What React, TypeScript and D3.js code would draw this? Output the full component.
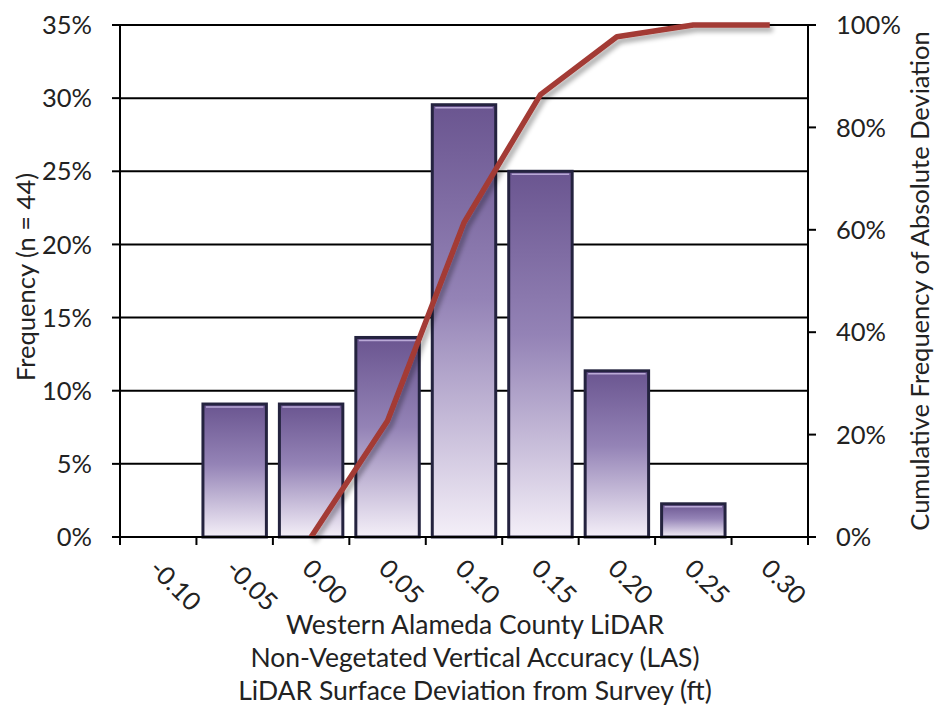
import React from 'react';
import * as d3 from 'd3';

const categories = ['-0.10', '-0.05', '0.00', '0.05', '0.10', '0.15', '0.20', '0.25', '0.30'];
const frequencyPct = [0, 9.09, 9.09, 13.64, 29.55, 25.0, 11.36, 2.27, 0];
const cumulativePct: (number | null)[] = [null, null, 0, 22.7, 61.4, 86.4, 97.7, 100, 100];
const leftTicks = [0, 5, 10, 15, 20, 25, 30, 35];
const rightTicks = [0, 20, 40, 60, 80, 100];
const leftTitle = 'Frequency (n = 44)';
const rightTitle = 'Cumulative Frequency of Absolute Deviation';
const xTitleLines = [
  'Western Alameda County LiDAR',
  'Non-Vegetated Vertical Accuracy (LAS)',
  'LiDAR Surface Deviation from Survey (ft)',
];

const W = 938;
const H = 713;
const M = { left: 120, right: 808, top: 25, bottom: 537 };
const FONT = 'Lato, "Open Sans", sans-serif';
const FS = 25.5;

export default function App() {
  const x = d3.scaleBand<string>().domain(categories).range([M.left, M.right]).paddingInner(0.17).paddingOuter(0.085);
  const xb = d3.scaleBand<string>().domain(categories).range([M.left, M.right]);
  const yL = d3.scaleLinear().domain([0, 35]).range([M.bottom, M.top]);
  const yR = d3.scaleLinear().domain([0, 100]).range([M.bottom, M.top]);

  const linePts = categories
    .map((c, i) => ({ c, v: cumulativePct[i] }))
    .filter((d) => d.v !== null) as { c: string; v: number }[];
  const line = d3
    .line<{ c: string; v: number }>()
    .x((d) => (xb(d.c) as number) + xb.bandwidth() / 2)
    .y((d) => yR(d.v));

  const boundaries = d3.range(categories.length + 1).map((i) => M.left + i * xb.bandwidth());

  return (
    <svg width={W} height={H} style={{ position: 'absolute', left: 0, top: 0, background: '#fff' }} fontFamily={FONT}>
      <defs>
        <linearGradient id="barGrad" x1="0" y1="0" x2="0" y2="1">
          <stop offset="0" stopColor="#6a5590" />
          <stop offset="0.45" stopColor="#9483b6" />
          <stop offset="1" stopColor="#f4eff8" />
        </linearGradient>
        <filter id="shadow" x="-10%" y="-10%" width="130%" height="130%">
          <feGaussianBlur in="SourceAlpha" stdDeviation="2.5" />
          <feOffset dx="3" dy="4" result="b" />
          <feComponentTransfer>
            <feFuncA type="linear" slope="0.35" />
          </feComponentTransfer>
          <feMerge>
            <feMergeNode />
            <feMergeNode in="SourceGraphic" />
          </feMerge>
        </filter>
      </defs>

      {/* gridlines */}
      {leftTicks.map((t) => (
        <line key={'g' + t} x1={M.left} x2={M.right} y1={yL(t)} y2={yL(t)} stroke="#000" strokeWidth={2} />
      ))}

      {/* bars */}
      {categories.map((c, i) =>
        frequencyPct[i] > 0 ? (
          <g key={'b' + c}>
            <rect
              x={x(c)}
              y={yL(frequencyPct[i])}
              width={x.bandwidth()}
              height={M.bottom - yL(frequencyPct[i])}
              fill="url(#barGrad)"
              stroke="#24233f"
              strokeWidth={3}
            />
            <line
              x1={(x(c) as number) + 3}
              x2={(x(c) as number) + x.bandwidth() - 3}
              y1={yL(frequencyPct[i]) + 3}
              y2={yL(frequencyPct[i]) + 3}
              stroke="#b9a9d6"
              strokeWidth={1.5}
            />
          </g>
        ) : null
      )}

      {/* cumulative line */}
      <path d={line(linePts) as string} fill="none" stroke="#a33a34" strokeWidth={5.5} strokeLinejoin="round" filter="url(#shadow)" />

      {/* axes */}
      <line x1={M.left} x2={M.left} y1={M.top} y2={M.bottom} stroke="#000" strokeWidth={2} />
      <line x1={M.right} x2={M.right} y1={M.top} y2={M.bottom} stroke="#000" strokeWidth={2} />
      <line x1={M.left} x2={M.right} y1={M.bottom} y2={M.bottom} stroke="#000" strokeWidth={2} />
      {leftTicks.map((t) => (
        <g key={'lt' + t}>
          <line x1={M.left - 8} x2={M.left} y1={yL(t)} y2={yL(t)} stroke="#000" strokeWidth={2} />
          <text x={92} y={yL(t)} dy="0.36em" textAnchor="end" fontSize={FS} fill="#222">
            {t}%
          </text>
        </g>
      ))}
      {rightTicks.map((t) => (
        <g key={'rt' + t}>
          <line x1={M.right} x2={M.right + 8} y1={yR(t)} y2={yR(t)} stroke="#000" strokeWidth={2} />
          <text x={836} y={yR(t)} dy="0.36em" textAnchor="start" fontSize={FS} fill="#222">
            {t}%
          </text>
        </g>
      ))}
      {boundaries.map((bx, i) => (
        <line key={'xt' + i} x1={bx} x2={bx} y1={M.bottom} y2={M.bottom + 8} stroke="#000" strokeWidth={2} />
      ))}
      {categories.map((c) => (
        <text
          key={'xl' + c}
          transform={`translate(${(xb(c) as number) + xb.bandwidth() / 2 - 4},${M.bottom + 27}) rotate(45)`}
          dy="0.35em"
          textAnchor="start"
          fontSize={FS}
          fill="#222"
        >
          {c}
        </text>
      ))}

      {/* titles */}
      <text transform={`translate(35,${(M.top + M.bottom) / 2 - 4}) rotate(-90)`} textAnchor="middle" fontSize={FS} fill="#222">
        {leftTitle}
      </text>
      <text transform={`translate(929,${(M.top + M.bottom) / 2}) rotate(-90)`} textAnchor="middle" fontSize={FS} fill="#222">
        {rightTitle}
      </text>
      {xTitleLines.map((l, i) => (
        <text key={'xt' + i} x={475} y={634 + i * 33} textAnchor="middle" fontSize={26.5} fill="#222">
          {l}
        </text>
      ))}
    </svg>
  );
}
